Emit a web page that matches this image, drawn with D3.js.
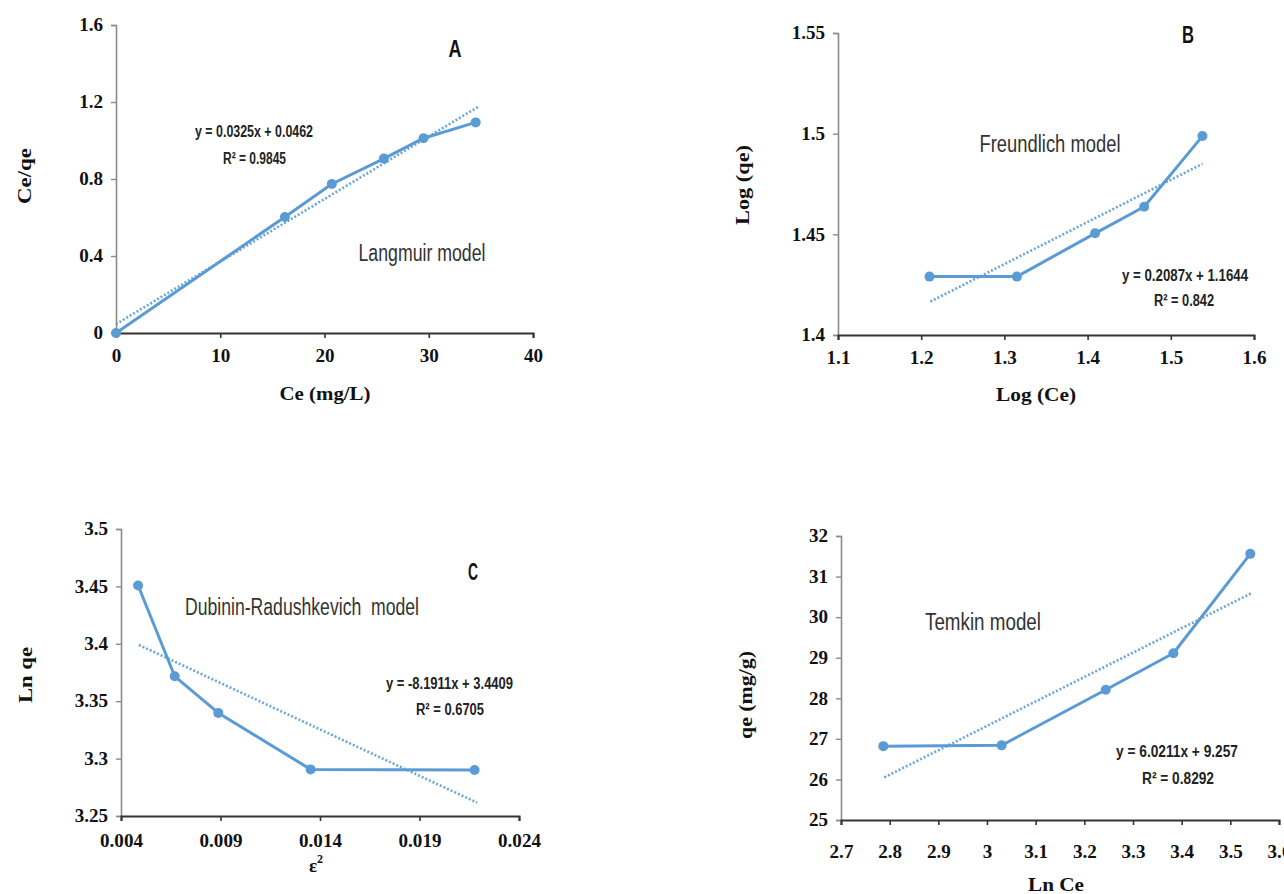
<!DOCTYPE html>
<html>
<head>
<meta charset="utf-8">
<script src="https://cdn.jsdelivr.net/npm/d3@7"></script>
<style>
  html, body { margin: 0; padding: 0; background: #ffffff; }
  svg { display: block; }
  text { white-space: pre; }
</style>
</head>
<body>
<svg id="chart" width="1284" height="894"></svg>
<script>
// ---------------- DATA ----------------
// Panel A – Langmuir
const langmuirX = [0, 16.2, 20.7, 25.7, 29.5, 34.5];
const langmuirY = [0, 0.603, 0.774, 0.906, 1.012, 1.094];
const langmuirTrendX = [0, 34.8];
const langmuirTrendY = [0.046, 1.177];
const langmuirXTicks = [0, 10, 20, 30, 40];
const langmuirYTicks = [0, 0.4, 0.8, 1.2, 1.6];
const langmuirXLabels = ["0", "10", "20", "30", "40"];
const langmuirYLabels = ["0", "0.4", "0.8", "1.2", "1.6"];

// Panel B – Freundlich
const freundlichX = [1.21, 1.315, 1.409, 1.468, 1.538];
const freundlichY = [1.429, 1.429, 1.4505, 1.4637, 1.4988];
const freundlichTrendX = [1.211, 1.538];
const freundlichTrendY = [1.4166, 1.485];
const freundlichXTicks = [1.1, 1.2, 1.3, 1.4, 1.5, 1.6];
const freundlichYTicks = [1.4, 1.45, 1.5, 1.55];
const freundlichXLabels = ["1.1", "1.2", "1.3", "1.4", "1.5", "1.6"];
const freundlichYLabels = ["1.4", "1.45", "1.5", "1.55"];

// Panel C – Dubinin-Radushkevich
const drX = [0.00486, 0.0067, 0.00889, 0.01353, 0.02177];
const drY = [3.4508, 3.3717, 3.3398, 3.2906, 3.290];
const drTrendX = [0.0049, 0.0219];
const drTrendY = [3.399, 3.2616];
const drXTicks = [0.004, 0.009, 0.014, 0.019, 0.024];
const drYTicks = [3.25, 3.3, 3.35, 3.4, 3.45, 3.5];
const drXLabels = ["0.004", "0.009", "0.014", "0.019", "0.024"];
const drYLabels = ["3.25", "3.3", "3.35", "3.4", "3.45", "3.5"];

// Panel D – Temkin
const temkinX = [2.787, 3.03, 3.244, 3.383, 3.541];
const temkinY = [26.82, 26.84, 28.21, 29.11, 31.56];
const temkinTrendX = [2.789, 3.545];
const temkinTrendY = [26.05, 30.6];
const temkinXTicks = [2.7, 2.8, 2.9, 3.0, 3.1, 3.2, 3.3, 3.4, 3.5, 3.6];
const temkinYTicks = [25, 26, 27, 28, 29, 30, 31, 32];
const temkinXLabels = ["2.7", "2.8", "2.9", "3", "3.1", "3.2", "3.3", "3.4", "3.5", "3.6"];
const temkinYLabels = ["25", "26", "27", "28", "29", "30", "31", "32"];

// Texts
const panelLetters = ["A", "B", "C", ""];
const modelNames = ["Langmuir model", "Freundlich model", "Dubinin-Radushkevich  model", "Temkin model"];
const equations = ["y = 0.0325x + 0.0462", "y = 0.2087x + 1.1644", "y = -8.1911x + 3.4409", "y = 6.0211x + 9.257"];
const r2Texts = ["R\u00B2 = 0.9845", "R\u00B2 = 0.842", "R\u00B2 = 0.6705", "R\u00B2 = 0.8292"];
const xTitles = ["Ce (mg/L)", "Log (Ce)", "\u03B5", "Ln Ce"];
const yTitles = ["Ce/qe", "Log (qe)", "Ln qe", "qe (mg/g)"];

// ---------------- LAYOUT ----------------
const BLUE = "#5B9BD5";
const SERIF = "'Liberation Serif', 'Times New Roman', serif";
const NARROW = "'Liberation Sans Narrow', 'Liberation Sans', 'DejaVu Sans Condensed', Arial, sans-serif";

const panels = [
  { xs: langmuirX, ys: langmuirY, tx: langmuirTrendX, ty: langmuirTrendY,
    xt: langmuirXTicks, yt: langmuirYTicks, xl: langmuirXLabels, yl: langmuirYLabels,
    xd: [0, 40], yd: [0, 1.6],
    box: { l: 116, r: 533, t: 25, b: 333 }, xLabPad: 11,
    letter: { x: 455, y: 57, w: 13 },
    model: { x: 422, y: 261, w: 127 },
    eq: { x: 254, y: 137, w: 118 }, r2: { x: 254.5, y: 164, w: 63 },
    xTitle: { x: 325, y: 400, w: 91 }, yTitle: { x: 31, y: 176, w: 56 } },
  { xs: freundlichX, ys: freundlichY, tx: freundlichTrendX, ty: freundlichTrendY,
    xt: freundlichXTicks, yt: freundlichYTicks, xl: freundlichXLabels, yl: freundlichYLabels,
    xd: [1.1, 1.6], yd: [1.4, 1.55],
    box: { l: 838, r: 1254, t: 33, b: 335 }, xLabPad: 11,
    letter: { x: 1188, y: 43, w: 12 },
    model: { x: 1050, y: 152, w: 141 },
    eq: { x: 1185, y: 281, w: 126 }, r2: { x: 1184, y: 306, w: 60 },
    xTitle: { x: 1036, y: 401, w: 80 }, yTitle: { x: 749, y: 185, w: 80 } },
  { xs: drX, ys: drY, tx: drTrendX, ty: drTrendY,
    xt: drXTicks, yt: drYTicks, xl: drXLabels, yl: drYLabels,
    xd: [0.004, 0.024], yd: [3.25, 3.5],
    box: { l: 121, r: 519, t: 529, b: 816 }, xLabPad: 13,
    letter: { x: 473, y: 580, w: 10 },
    model: { x: 302, y: 615, w: 234 },
    eq: { x: 449.5, y: 689, w: 127 }, r2: { x: 450, y: 715, w: 68 },
    xTitle: { x: 316, y: 872, w: 0 }, yTitle: { x: 32, y: 675, w: 56 } },
  { xs: temkinX, ys: temkinY, tx: temkinTrendX, ty: temkinTrendY,
    xt: temkinXTicks, yt: temkinYTicks, xl: temkinXLabels, yl: temkinYLabels,
    xd: [2.7, 3.6], yd: [25, 32],
    box: { l: 841, r: 1279, t: 536, b: 820 }, xLabPad: 20,
    letter: null,
    model: { x: 983, y: 630, w: 116 },
    eq: { x: 1177, y: 757, w: 122 }, r2: { x: 1178, y: 784, w: 72 },
    xTitle: { x: 1056, y: 891, w: 56 }, yTitle: { x: 752, y: 695, w: 88 } }
];

const svg = d3.select("#chart");

function fitWidth(sel, w) {
  if (w > 0) sel.attr("textLength", w).attr("lengthAdjust", "spacingAndGlyphs");
  return sel;
}
function stretch(sel, factor) {
  sel.each(function () {
    const w = this.getComputedTextLength();
    this.setAttribute("textLength", w * factor);
    this.setAttribute("lengthAdjust", "spacingAndGlyphs");
  });
}

panels.forEach((p, i) => {
  const x = d3.scaleLinear().domain(p.xd).range([p.box.l, p.box.r]);
  const y = d3.scaleLinear().domain(p.yd).range([p.box.b, p.box.t]);
  const g = svg.append("g");

  // y axis
  const yAxis = d3.axisLeft(y).tickValues(p.yt)
    .tickFormat((d, k) => p.yl[k]).tickSizeOuter(0).tickSize(5).tickPadding(8);
  const ya = g.append("g").attr("transform", `translate(${p.box.l},0)`).call(yAxis);
  ya.select(".domain").attr("stroke", "#8a8a8a").attr("stroke-width", 1.6);
  ya.selectAll(".tick line").attr("stroke", "#8a8a8a").attr("stroke-width", 1.4);
  ya.selectAll(".tick text").attr("font-family", SERIF).attr("font-weight", "bold")
    .attr("font-size", 18).attr("fill", "#111");
  stretch(ya.selectAll(".tick text"), 1.06);

  // x axis
  const xAxis = d3.axisBottom(x).tickValues(p.xt)
    .tickFormat((d, k) => p.xl[k]).tickSizeOuter(0).tickSize(5).tickPadding(p.xLabPad);
  const xa = g.append("g").attr("transform", `translate(0,${p.box.b})`).call(xAxis);
  xa.select(".domain").attr("stroke", "#333").attr("stroke-width", 2);
  xa.selectAll(".tick line").attr("stroke", "#333").attr("stroke-width", 1.6);
  xa.selectAll(".tick text").attr("font-family", SERIF).attr("font-weight", "bold")
    .attr("font-size", 18).attr("fill", "#111");
  stretch(xa.selectAll(".tick text"), 1.06);

  // trend line (dotted)
  const trend = p.tx.map((v, k) => [v, p.ty[k]]);
  g.append("path").datum(trend)
    .attr("d", d3.line().x(d => x(d[0])).y(d => y(d[1])))
    .attr("fill", "none").attr("stroke", BLUE).attr("stroke-width", 2.6)
    .attr("stroke-dasharray", "2 2").attr("opacity", 0.9);

  // data line
  const pts = p.xs.map((v, k) => [v, p.ys[k]]);
  g.append("path").datum(pts)
    .attr("d", d3.line().x(d => x(d[0])).y(d => y(d[1])))
    .attr("fill", "none").attr("stroke", BLUE).attr("stroke-width", 3)
    .attr("stroke-linejoin", "round");
  g.selectAll("circle.pt").data(pts).enter().append("circle")
    .attr("class", "pt").attr("cx", d => x(d[0])).attr("cy", d => y(d[1]))
    .attr("r", 5).attr("fill", BLUE);

  // panel letter
  if (p.letter && panelLetters[i]) {
    fitWidth(g.append("text").attr("x", p.letter.x).attr("y", p.letter.y)
      .attr("text-anchor", "middle").attr("font-family", NARROW).attr("font-weight", "bold")
      .attr("font-size", 23).attr("fill", "#111").text(panelLetters[i]), p.letter.w);
  }

  // model label
  fitWidth(g.append("text").attr("x", p.model.x).attr("y", p.model.y)
    .attr("text-anchor", "middle").attr("font-family", NARROW)
    .attr("font-size", 23).attr("fill", "#333").text(modelNames[i]), p.model.w);

  // equation and R²
  fitWidth(g.append("text").attr("x", p.eq.x).attr("y", p.eq.y)
    .attr("text-anchor", "middle").attr("font-family", NARROW).attr("font-weight", "bold")
    .attr("font-size", 16).attr("fill", "#222").text(equations[i]), p.eq.w);
  fitWidth(g.append("text").attr("x", p.r2.x).attr("y", p.r2.y)
    .attr("text-anchor", "middle").attr("font-family", NARROW).attr("font-weight", "bold")
    .attr("font-size", 16).attr("fill", "#222").text(r2Texts[i]), p.r2.w);

  // x title
  const xt = g.append("text").attr("x", p.xTitle.x).attr("y", p.xTitle.y)
    .attr("text-anchor", "middle").attr("font-family", SERIF).attr("font-weight", "bold")
    .attr("font-size", 19).attr("fill", "#111").text(xTitles[i]);
  if (i === 2) {
    xt.append("tspan").attr("dy", -9).attr("font-size", 12).text("2");
  } else {
    fitWidth(xt, p.xTitle.w);
  }

  // y title (rotated)
  fitWidth(g.append("text")
    .attr("transform", `translate(${p.yTitle.x},${p.yTitle.y}) rotate(-90)`)
    .attr("text-anchor", "middle").attr("font-family", SERIF).attr("font-weight", "bold")
    .attr("font-size", 19).attr("fill", "#111").text(yTitles[i]), p.yTitle.w);
});
</script>
</body>
</html>
